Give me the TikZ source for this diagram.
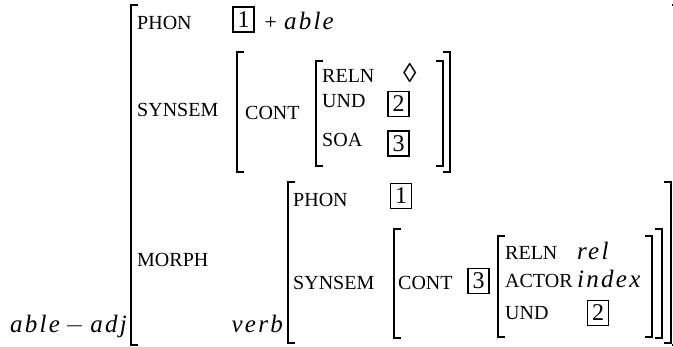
\documentclass[tikz,border=0pt]{standalone}
\usepackage{fontspec}
\setmainfont{Liberation Serif}
\newfontfamily\itfam[LetterSpace=9]{Liberation Serif Italic}
\begin{document}
\begin{tikzpicture}[x=1pt,y=-1pt,
  lbl/.style={anchor=base west,inner sep=0pt,font=\fontsize{20}{20}\selectfont},
  val/.style={anchor=base west,inner sep=0pt,font=\fontsize{25}{26}\itfam},
  tag/.style={draw,line width=1.3pt,inner sep=0pt,minimum width=21pt,minimum height=25pt,font=\fontsize{24}{24}\selectfont},
  brk/.style={line width=1.6pt}]
\useasboundingbox (0,0) rectangle (673,347);
% outer matrix
\draw[brk] (138,5) -- (131,5) -- (131,345) -- (138,345);
\draw[brk] (672,5) -- (680,5) -- (680,345) -- (672,345);
\node[lbl] (phon) at (137,30) {PHON};
\node[tag] (t1a) at (243.5,19.5) {1};
\node[val] (plusable) at (263,30) {\fontsize{22}{24}\selectfont +\kern6pt\fontsize{25}{26}\itfam able};
\node[lbl] (synsem) at (137,117) {SYNSEM};
\node[lbl] (morph) at (137,267) {MORPH};
\node[val,anchor=base west] (typ) at (10,333) {able\kern5pt{\fontsize{24}{24}\selectfont $-$}\kern6pt adj};
% top CONT
\draw[brk] (244,52) -- (237,52) -- (237,172) -- (244,172);
\draw[brk] (443,52) -- (450,52) -- (450,172) -- (443,172);
\node[lbl] (cont1) at (245,120) {CONT};
\draw[brk] (323,61) -- (316,61) -- (316,166) -- (323,166);
\draw[brk] (436,61) -- (443,61) -- (443,166) -- (436,166);
\node[lbl] (reln1) at (322,83) {RELN};
\node[anchor=base west,inner sep=0pt,font=\fontsize{27}{27}\selectfont] (dia) at (403,83) {◊};
\node[lbl] (und1) at (322,108) {UND};
\node[tag] (t2a) at (398.5,104) {2};
\node[lbl] (soa1) at (322,147) {SOA};
\node[tag] (t3a) at (398.5,143.5) {3};
% verb matrix
\node[val,anchor=base east] (verb) at (283,333) {verb};
\draw[brk] (295,182) -- (288,182) -- (288,343) -- (295,343);
\draw[brk] (664,182) -- (671,182) -- (671,343) -- (664,343);
\node[lbl] (phon2) at (293,207) {PHON};
\node[tag] (t1b) at (401,196) {1};
\node[lbl] (synsem2) at (293,290) {SYNSEM};
% bottom CONT
\draw[brk] (401,229) -- (394,229) -- (394,338) -- (401,338);
\draw[brk] (655,229) -- (662,229) -- (662,338) -- (655,338);
\node[lbl] (cont2) at (398,290) {CONT};
\node[tag] (t3b) at (478.5,281) {3};
\draw[brk] (505,236) -- (498,236) -- (498,337) -- (505,337);
\draw[brk] (645,236) -- (652,236) -- (652,337) -- (645,337);
\node[lbl] (reln2) at (505,260) {RELN};
\node[val] (rel) at (577,260) {rel};
\node[lbl] (actor) at (505,288) {ACTOR};
\node[val] (index) at (577,288) {index};
\node[lbl] (und2) at (505,320) {UND};
\node[tag] (t2b) at (598,313) {2};
\end{tikzpicture}
\end{document}
